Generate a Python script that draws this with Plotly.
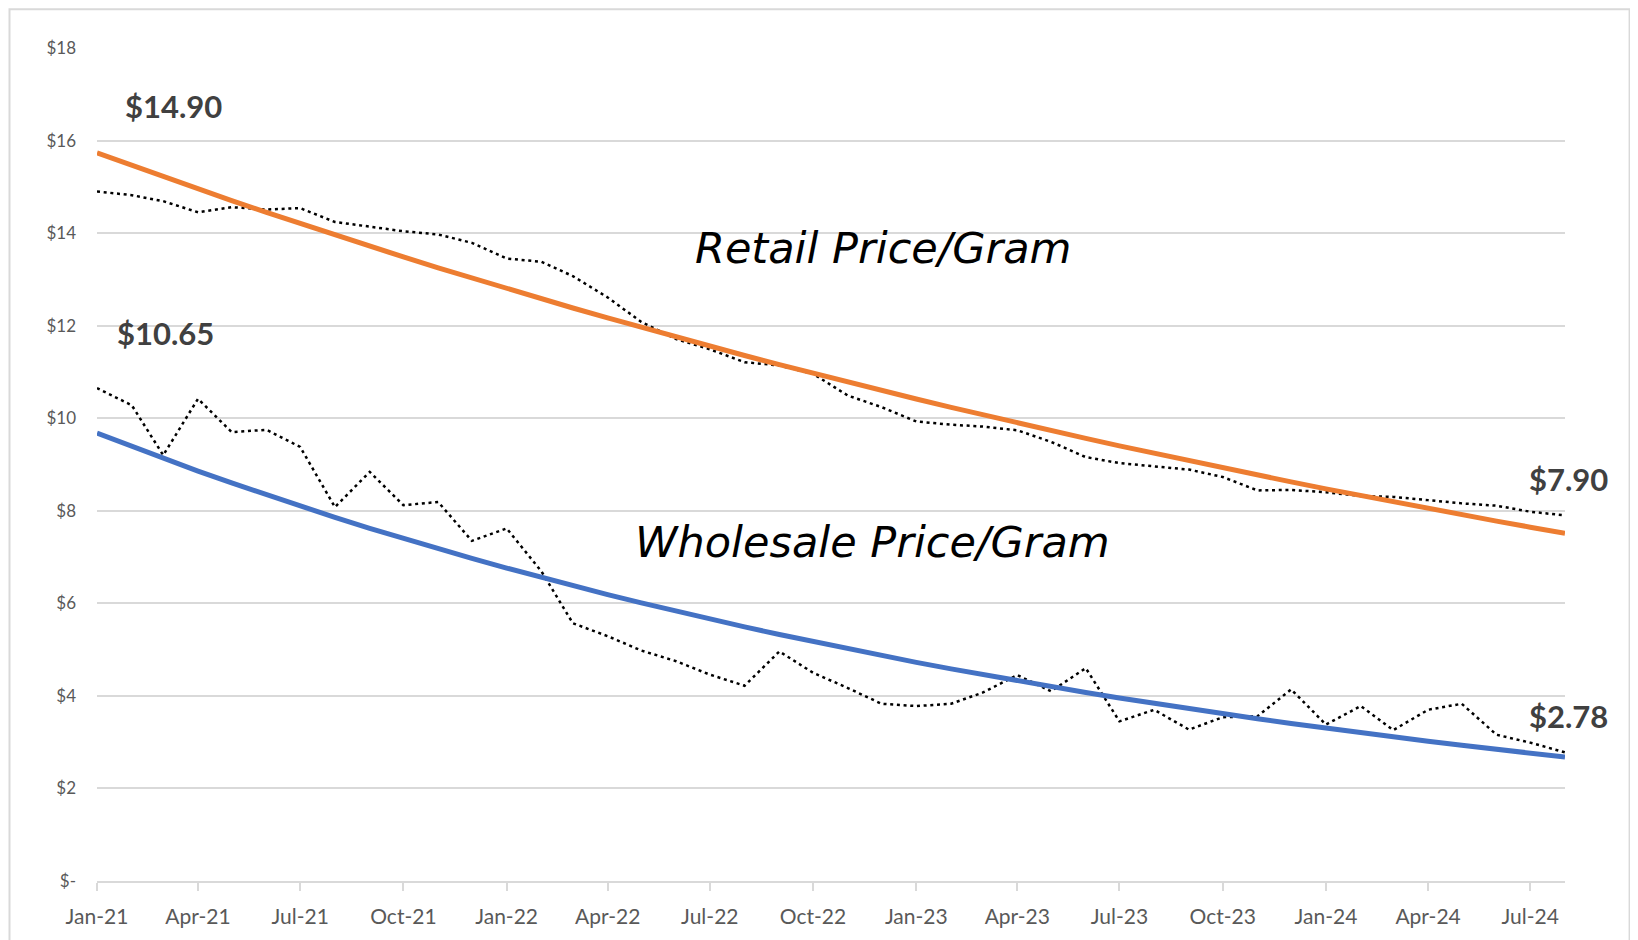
import numpy as np
import pandas as pd
import plotly.graph_objects as go

# ---- data ----
months = pd.date_range("2021-01-01", "2024-08-01", freq="MS")
retail = [14.90, 14.82, 14.69, 14.45, 14.56, 14.51, 14.54, 14.24, 14.14, 14.04, 13.97,
          13.79, 13.45, 13.38, 13.07, 12.61, 12.08, 11.71, 11.49, 11.21, 11.14, 10.96,
          10.49, 10.24, 9.93, 9.86, 9.82, 9.74, 9.49, 9.16, 9.03, 8.96, 8.89, 8.73,
          8.44, 8.45, 8.40, 8.32, 8.30, 8.23, 8.16, 8.11, 7.98, 7.90]
wholesale = [10.65, 10.28, 9.20, 10.42, 9.70, 9.75, 9.38, 8.08, 8.84, 8.12, 8.19,
             7.35, 7.62, 6.69, 5.57, 5.29, 4.98, 4.75, 4.46, 4.22, 4.96, 4.50,
             4.17, 3.83, 3.78, 3.83, 4.07, 4.45, 4.10, 4.60, 3.45, 3.70, 3.27, 3.54,
             3.56, 4.14, 3.38, 3.78, 3.26, 3.70, 3.83, 3.16, 2.99, 2.78]
y_tickvals = [0, 2, 4, 6, 8, 10, 12, 14, 16, 18]
y_ticktext = ["$-", "$2", "$4", "$6", "$8", "$10", "$12", "$14", "$16", "$18"]
series_labels = ["Retail Price/Gram", "Wholesale Price/Gram"]

# exponential trendlines (least squares on log values, as Excel does)
days = np.array([(d - months[0]).days for d in months], dtype=float)
def exp_trend(vals):
    b, a = np.polyfit(days, np.log(np.array(vals)), 1)
    return np.exp(a + b * days)
retail_trend = exp_trend(retail)
wholesale_trend = exp_trend(wholesale)

ORANGE = "#ED7D31"
BLUE = "#4472C4"
GRID = "#D9D9D9"
TICK = "#595959"
LABEL = "#404040"

fig = go.Figure()
dot = "3px,3.7px"
fig.add_trace(go.Scatter(x=months, y=retail, mode="lines",
                         line=dict(color="black", width=2.5, dash=dot), showlegend=False))
fig.add_trace(go.Scatter(x=months, y=wholesale, mode="lines",
                         line=dict(color="black", width=2.5, dash=dot), showlegend=False))
fig.add_trace(go.Scatter(x=months, y=retail_trend, mode="lines",
                         line=dict(color=ORANGE, width=5), showlegend=False))
fig.add_trace(go.Scatter(x=months, y=wholesale_trend, mode="lines",
                         line=dict(color=BLUE, width=5), showlegend=False))

lab_font = dict(family="Lato", size=31, color=LABEL)
ann = [
    dict(x=months[0], y=retail[0], text=f"<b>${retail[0]:.2f}</b>", xanchor="left",
         yanchor="middle", xshift=26, yshift=85),
    dict(x=months[0], y=wholesale[0], text=f"<b>${wholesale[0]:.2f}</b>", xanchor="left",
         yanchor="middle", xshift=18, yshift=55),
    dict(x=months[-1], y=retail[-1], text=f"<b>${retail[-1]:.2f}</b>", xanchor="center",
         yanchor="middle", xshift=3, yshift=36),
    dict(x=months[-1], y=wholesale[-1], text=f"<b>${wholesale[-1]:.2f}</b>", xanchor="center",
         yanchor="middle", xshift=3, yshift=36),
]
for a in ann:
    fig.add_annotation(**a, showarrow=False, font=lab_font)

big = dict(family="DejaVu Sans", size=43, color="black")
fig.add_annotation(xref="paper", yref="paper", x=0.5356, y=0.7596,
                   text=f"<i>{series_labels[0]}</i>", showarrow=False, font=big,
                   xanchor="center", yanchor="middle")
fig.add_annotation(xref="paper", yref="paper", x=0.528, y=0.4067,
                   text=f"<i>{series_labels[1]}</i>", showarrow=False, font=big,
                   xanchor="center", yanchor="middle")

# chart-area frame
fig.add_shape(type="rect", xref="paper", yref="paper", x0=-0.0596, x1=1.044,
              y0=-0.2, y1=1.0466, line=dict(color=GRID, width=2), layer="below")

fig.update_xaxes(type="date", range=[months[0], months[-1]],
                 tick0=months[0], dtick="M3", tickformat="%b-%y",
                 showgrid=False, showline=True, linecolor=GRID, linewidth=1.5,
                 ticks="outside", ticklen=8, tickcolor=GRID, tickwidth=1.5,
                 ticklabelstandoff=8,
                 tickfont=dict(family="Lato", size=21, color=TICK))
fig.update_yaxes(range=[0, 18], tickvals=y_tickvals, ticktext=y_ticktext,
                 showgrid=True, gridcolor=GRID, gridwidth=1.5, zeroline=False,
                 showline=False, ticks="", ticklabelstandoff=20,
                 tickfont=dict(family="Lato", size=17, color=TICK))

fig.update_layout(width=1630, height=932,
                  margin=dict(l=89, r=73, t=40, b=56),
                  plot_bgcolor="white", paper_bgcolor="white",
                  showlegend=False)

fig.write_html("out.html")
